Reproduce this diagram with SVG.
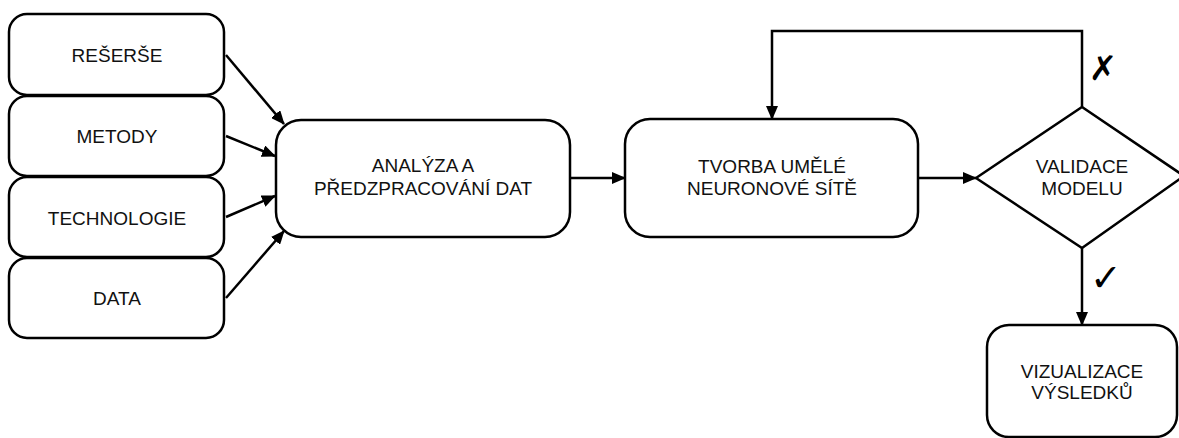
<svg xmlns="http://www.w3.org/2000/svg" width="1179" height="438" viewBox="0 0 1179 438">
<defs>
<style>
.box{fill:#fff;stroke:#000;stroke-width:2.5}
.lbl{font-family:"Liberation Sans",Arial,sans-serif;font-size:19px;fill:#111;text-anchor:middle}
.con{fill:none;stroke:#000;stroke-width:2.5}
.mark{font-family:"DejaVu Sans",sans-serif;fill:#000;text-anchor:middle}
</style>
<marker id="ah" viewBox="0 0 14 12" refX="13" refY="6" markerWidth="14" markerHeight="12" orient="auto" markerUnits="userSpaceOnUse">
<path d="M0,0 L14,6 L0,12 Z" fill="#000"/>
</marker>
</defs>
<rect width="1179" height="438" fill="#fff"/>
<g id="connectors">
<path class="con" d="M226,55 L284,124" marker-end="url(#ah)"/>
<path class="con" d="M226,136 L275,156" marker-end="url(#ah)"/>
<path class="con" d="M226,217 L275,196" marker-end="url(#ah)"/>
<path class="con" d="M226,298 L284,231" marker-end="url(#ah)"/>
<path class="con" d="M570,178 L625,178" marker-end="url(#ah)"/>
<path class="con" d="M918,178 L976,178" marker-end="url(#ah)"/>
<path class="con" d="M1082,107 L1082,31 L772,31 L772,119" marker-end="url(#ah)"/>
<path class="con" d="M1082,248 L1082,325" marker-end="url(#ah)"/>
<text class="mark" x="1103" y="80" font-size="34" font-style="italic" font-weight="bold">✗</text>
<text class="mark" x="1106" y="291" font-size="38" font-weight="bold">✓</text>
</g>
<g id="reserse">
<rect class="box" x="9" y="14" width="215" height="81" rx="18"/>
<text class="lbl" x="117" y="62">REŠERŠE</text>
</g>
<g id="metody">
<rect class="box" x="9" y="96" width="215" height="80" rx="18"/>
<text class="lbl" x="117" y="143">METODY</text>
</g>
<g id="technologie">
<rect class="box" x="9" y="177" width="215" height="80" rx="18"/>
<text class="lbl" x="117" y="225">TECHNOLOGIE</text>
</g>
<g id="data">
<rect class="box" x="9" y="258" width="215" height="80" rx="18"/>
<text class="lbl" x="117" y="305">DATA</text>
</g>
<g id="analyza">
<rect class="box" x="276" y="120" width="294" height="117" rx="25"/>
<text class="lbl" x="423" y="172">ANALÝZA A</text>
<text class="lbl" x="423" y="195">PŘEDZPRACOVÁNÍ DAT</text>
</g>
<g id="tvorba">
<rect class="box" x="625" y="119" width="293" height="118" rx="25"/>
<text class="lbl" x="772" y="173">TVORBA UMĚLÉ</text>
<text class="lbl" x="772" y="195">NEURONOVÉ SÍTĚ</text>
</g>
<g id="validace">
<path class="box" d="M976,178 L1082,107 L1184,176 L1082,248 Z"/>
<text class="lbl" x="1082" y="173">VALIDACE</text>
<text class="lbl" x="1082" y="195">MODELU</text>
</g>
<g id="vizualizace">
<rect class="box" x="987" y="325" width="190" height="112" rx="22"/>
<text class="lbl" x="1082" y="378">VIZUALIZACE</text>
<text class="lbl" x="1082" y="399">VÝSLEDKŮ</text>
</g>
</svg>
